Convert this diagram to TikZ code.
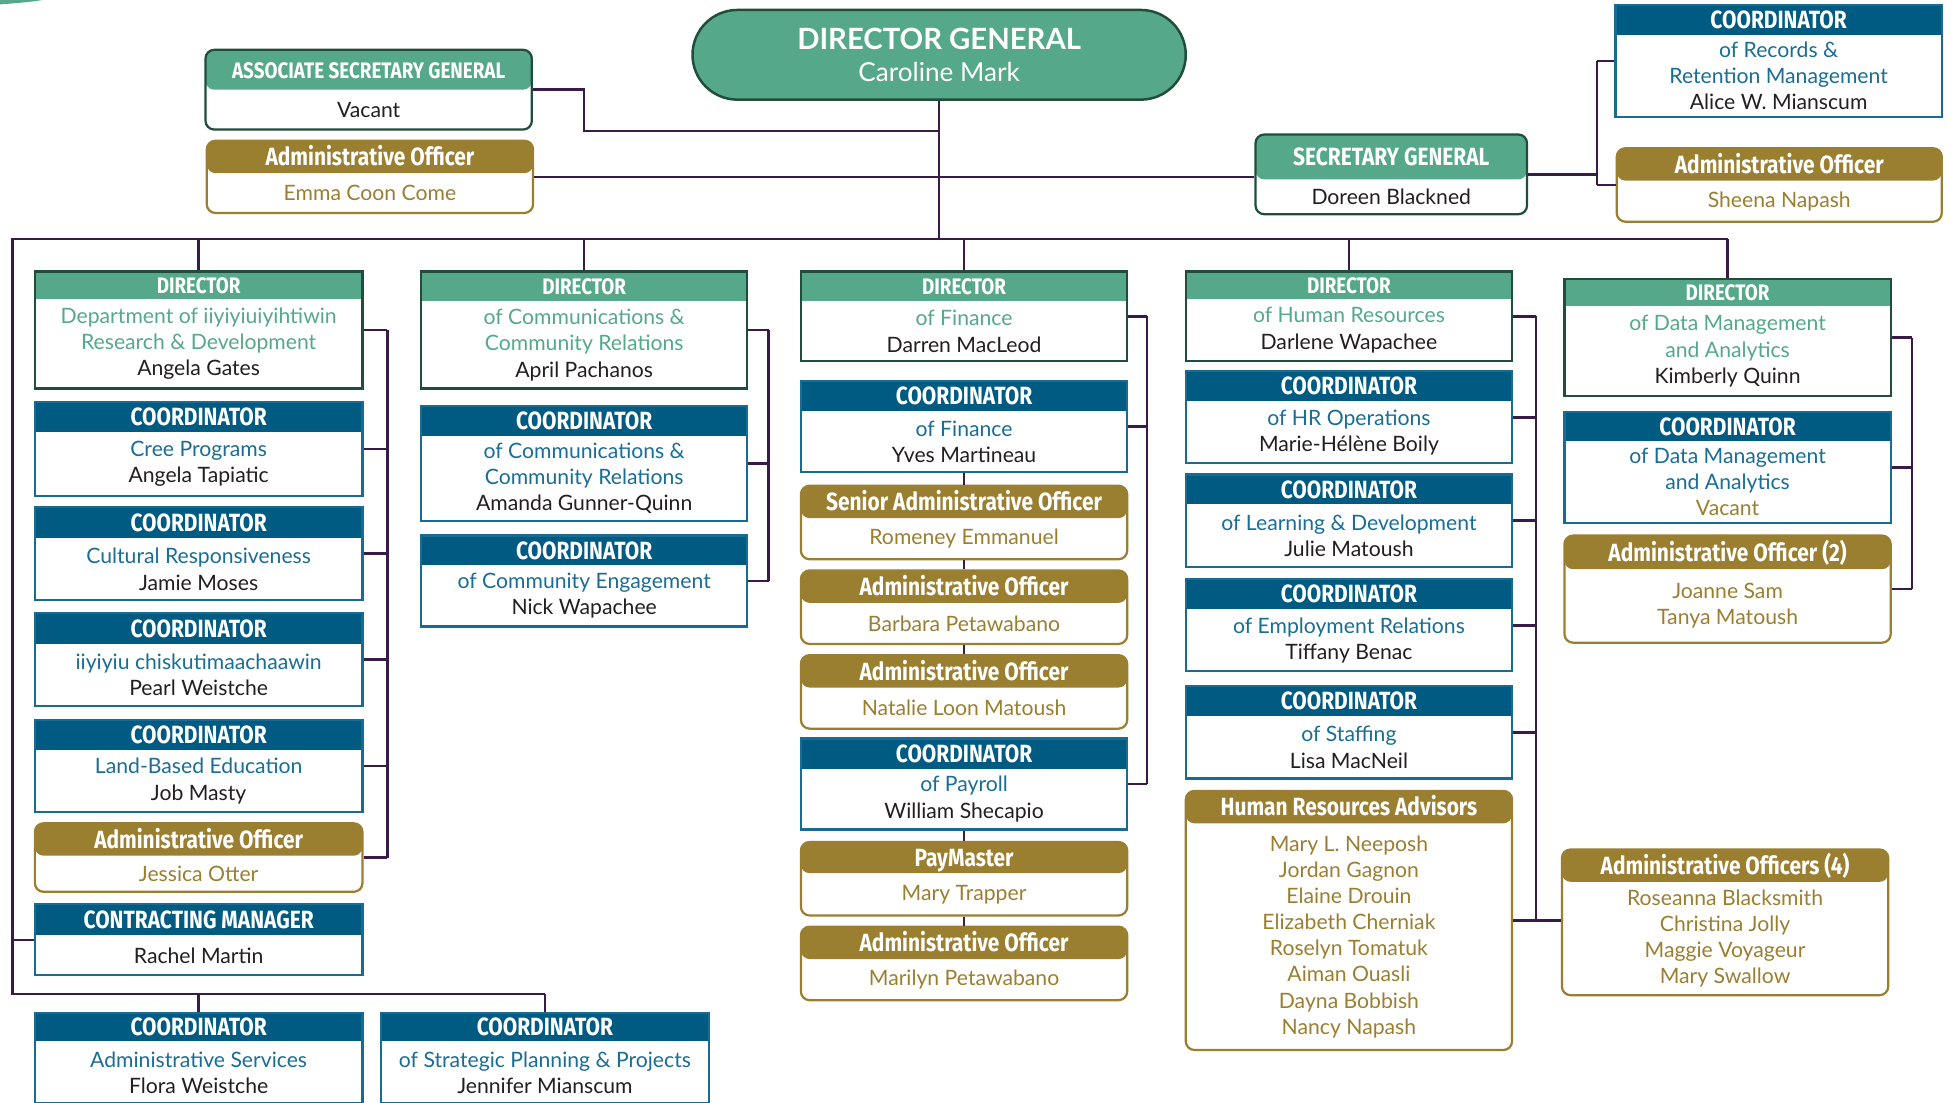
\documentclass[tikz,border=0pt]{standalone}
\usepackage{fontspec}
\setmainfont{Lato}
\newfontfamily\hdfont[FakeStretch=0.84]{Fira Sans}
\usetikzlibrary{calc,positioning}

\definecolor{hgreen}{RGB}{85,169,138}
\definecolor{dgreen}{RGB}{33,77,60}
\definecolor{cblue}{RGB}{0,91,130}
\definecolor{cbord}{RGB}{24,108,148}
\definecolor{gold}{RGB}{155,127,49}
\definecolor{linkc}{RGB}{58,27,71}
\definecolor{subblue}{RGB}{26,110,150}
\definecolor{namec}{RGB}{35,31,32}

\newcommand{\dsub}[1]{\textcolor{hgreen}{#1}}
\newcommand{\csub}[1]{\textcolor{subblue}{#1}}

% box: kind, name, left, top, right, bottom, header height, header, body
\newcommand{\obox}[9]{%
  \node[#1box=#7, minimum width={#5-#3}, minimum height={#6-#4}] (#2) at ({(#3+#5)/2},{(#4+#6)/2}) {};
  \node[#1hd] (#2-h) at ({(#3+#5)/2},{#4+#7/2}) {#8};
  \node[#1txt] (#2-t) at ({(#3+#5)/2},{(#4+#7+#6)/2}) {#9};
}

\begin{document}
\begin{tikzpicture}[
    x=1pt, y=-1pt,
    link/.style={draw=linkc, line width=2pt},
    hdfill/.style 2 args={path picture={\fill[#1] (path picture bounding box.north west)
      rectangle ([yshift=-#2]path picture bounding box.north east);}},
    basebox/.style={rectangle, fill=white, line width=1.8pt, inner sep=0pt},
    dirbox/.style={basebox, draw=dgreen, hdfill={hgreen}{#1}},
    sgbox/.style={dirbox=#1, rounded corners=7pt},
    crdbox/.style={basebox, draw=cbord, hdfill={cblue}{#1}},
    admbox/.style={basebox, draw=gold, rounded corners=7pt, hdfill={gold}{#1}},
    hdtext/.style={text=white, inner sep=0pt, text height=14pt, text depth=0pt,
      font=\hdfont\bfseries\fontsize{20}{22}\selectfont},
    dirhd/.style={hdtext, font=\hdfont\bfseries\fontsize{18}{20}\selectfont, text height=12.5pt},
    sghd/.style={hdtext}, crdhd/.style={hdtext}, admhd/.style={hdtext},
    bodytext/.style={align=center, inner sep=0pt, font=\fontsize{17}{21}\selectfont},
    dirtxt/.style={bodytext, text=namec}, sgtxt/.style={dirtxt}, crdtxt/.style={dirtxt},
    admtxt/.style={bodytext, text=gold},
    dgbox/.style={rectangle, rounded corners=36pt, fill=hgreen, draw=dgreen, line width=2pt,
      text=white, align=center, font=\fontsize{21}{26}\selectfont},
  ]
  \useasboundingbox (0,0) rectangle (1568,885);
  \clip (0,0) rectangle (1568,885);
  \fill[white] (0,0) rectangle (1568,885);
  \fill[hgreen] (0,0) -- (0,3.5) .. controls (15,2.5) and (28,1.2) .. (34,0) -- cycle;

  % Top level
  \node[dgbox, minimum width=396, minimum height=72] (dg) at (754,44)
    {{\fontsize{23.5}{26}\selectfont\bfseries DIRECTOR GENERAL}\\Caroline Mark};
  \obox{sg}{asg}{165}{40}{427}{104}{32}{\fontsize{18}{20}\selectfont ASSOCIATE SECRETARY GENERAL}{Vacant}
  \obox{adm}{aoE}{166}{113}{428}{171}{26}{Administrative Officer}{Emma Coon Come}
  \obox{sg}{sg}{1008}{108}{1226}{172}{36}{SECRETARY GENERAL}{Doreen Blackned}
  \obox{crd}{cRec}{1297}{4}{1559}{94}{24}{COORDINATOR}
    {\csub{of Records \&}\\\csub{Retention Management}\\Alice W. Mianscum}
  \obox{adm}{aoS}{1298}{119}{1559}{178}{26}{Administrative Officer}{Sheena Napash}

  % Column 1: research & development
  \obox{dir}{dRes}{28}{218}{291}{312}{22}{DIRECTOR}
    {\dsub{Department of iiyiyiuiyihtiwin}\\\dsub{Research \& Development}\\Angela Gates}
  \obox{crd}{cCree}{28}{323}{291}{398}{24}{COORDINATOR}{\csub{Cree Programs}\\Angela Tapiatic}
  \obox{crd}{cCult}{28}{407}{291}{482}{25}{COORDINATOR}{\csub{Cultural Responsiveness}\\Jamie Moses}
  \obox{crd}{cIiy}{28}{492}{291}{567}{25}{COORDINATOR}{\csub{iiyiyiu chiskutimaachaawin}\\Pearl Weistche}
  \obox{crd}{cLand}{28}{578}{291}{652}{24}{COORDINATOR}{\csub{Land-Based Education}\\Job Masty}
  \obox{adm}{aoJes}{28}{661}{291}{716}{26}{Administrative Officer}{Jessica Otter}
  \obox{crd}{cCon}{28}{726}{291}{783}{25}{CONTRACTING MANAGER}{Rachel Martin}
  \obox{crd}{cAdm}{28}{813}{291}{886}{23}{COORDINATOR}{\csub{Administrative Services}\\Flora Weistche}
  \obox{crd}{cStr}{306}{813}{569}{886}{23}{COORDINATOR}
    {\csub{of Strategic Planning \& Projects}\\Jennifer Mianscum}

  % Column 2: communications
  \obox{dir}{dCom}{338}{218}{600}{312}{24}{DIRECTOR}
    {\dsub{of Communications \&}\\\dsub{Community Relations}\\April Pachanos}
  \obox{crd}{cCom}{338}{326}{600}{418}{24}{COORDINATOR}
    {\csub{of Communications \&}\\\csub{Community Relations}\\Amanda Gunner-Quinn}
  \obox{crd}{cEng}{338}{430}{600}{503}{24}{COORDINATOR}{\csub{of Community Engagement}\\Nick Wapachee}

  % Column 3: finance
  \obox{dir}{dFin}{643}{218}{905}{290}{24}{DIRECTOR}{\dsub{of Finance}\\Darren MacLeod}
  \obox{crd}{cFin}{643}{306}{905}{379}{24}{COORDINATOR}{\csub{of Finance}\\Yves Martineau}
  \obox{adm}{aoSen}{643}{390}{905}{449}{26}{Senior Administrative Officer}{Romeney Emmanuel}
  \obox{adm}{aoBar}{643}{458}{905}{517}{26}{Administrative Officer}{Barbara Petawabano}
  \obox{adm}{aoNat}{643}{526}{905}{585}{26}{Administrative Officer}{Natalie Loon Matoush}
  \obox{crd}{cPay}{643}{593}{905}{666}{24}{COORDINATOR}{\csub{of Payroll}\\William Shecapio}
  \obox{adm}{pm}{643}{676}{905}{735}{25}{PayMaster}{Mary Trapper}
  \obox{adm}{aoMar}{643}{744}{905}{803}{26}{Administrative Officer}{Marilyn Petawabano}

  % Column 4: human resources
  \obox{dir}{dHR}{952}{218}{1214}{290}{22}{DIRECTOR}{\dsub{of Human Resources}\\Darlene Wapachee}
  \obox{crd}{cOps}{952}{298}{1214}{372}{24}{COORDINATOR}{\csub{of HR Operations}\\Marie-Hélène Boily}
  \obox{crd}{cLD}{952}{381}{1214}{455}{24}{COORDINATOR}{\csub{of Learning \& Development}\\Julie Matoush}
  \obox{crd}{cEmp}{952}{465}{1214}{539}{24}{COORDINATOR}{\csub{of Employment Relations}\\Tiffany Benac}
  \obox{crd}{cSta}{952}{551}{1214}{625}{24}{COORDINATOR}{\csub{of Staffing}\\Lisa MacNeil}
  \obox{adm}{hra}{952}{635}{1214}{843}{26}{Human Resources Advisors}
    {Mary L. Neeposh\\Jordan Gagnon\\Elaine Drouin\\Elizabeth Cherniak\\Roselyn Tomatuk\\Aiman Ouasli\\Dayna Bobbish\\Nancy Napash}

  % Column 5: data management
  \obox{dir}{dDat}{1256}{224}{1518}{318}{22}{DIRECTOR}
    {\dsub{of Data Management}\\\dsub{and Analytics}\\Kimberly Quinn}
  \obox{crd}{cDat}{1256}{331}{1518}{420}{23}{COORDINATOR}
    {\csub{of Data Management}\\\csub{and Analytics}\\\textcolor{gold}{Vacant}}
  \obox{adm}{ao2}{1256}{430}{1518}{516}{27}{Administrative Officer (2)}{Joanne Sam\\Tanya Matoush}
  \obox{adm}{ao4}{1254}{682}{1516}{799}{26}{Administrative Officers (4)}
    {Roseanna Blacksmith\\Christina Jolly\\Maggie Voyageur\\Mary Swallow}

  % Bus lines
  \coordinate (busL) at (10,192);
  \coordinate (busB) at (10,798);
  \coordinate (asgK) at (469,105);
  \coordinate (sgK) at (1282,0);
  \coordinate (bus1) at (311,0);
  \coordinate (bus2) at (617,0);
  \coordinate (bus3) at (921,0);
  \coordinate (bus4) at (1233,0);
  \coordinate (bus5) at (1535,0);

  \draw[link] (dg.south) -- (dg.south |- busL);
  \draw[link] (busL -| dDat.north) -- (busL) -- (busB) -- (busB -| cStr.north);
  \foreach \n in {dRes,dCom,dFin,dHR,dDat} \draw[link] (\n.north) -- (\n.north |- busL);
  \foreach \n in {cAdm,cStr} \draw[link] (\n.north) -- (\n.north |- busB);
  \draw[link] (cCon.west) -- (cCon.west -| busL);

  \draw[link] (asg.east) -| (asgK) -- (asgK -| dg.south);
  \draw[link] (aoE.east) -- (aoE.east -| sg.west);
  \draw[link] (sg.east) -- (sg.east -| sgK);
  \draw[link] (cRec.west -| sgK) -- (aoS.west -| sgK);
  \foreach \n in {cRec,aoS} \draw[link] (\n.west) -- (\n.west -| sgK);

  % Column buses
  \foreach \n in {dRes,cCree,cCult,cIiy,cLand,aoJes} \draw[link] (\n.east) -- (\n.east -| bus1);
  \draw[link] (dRes.east -| bus1) -- (aoJes.east -| bus1);
  \foreach \n in {dCom,cCom,cEng} \draw[link] (\n.east) -- (\n.east -| bus2);
  \draw[link] (dCom.east -| bus2) -- (cEng.east -| bus2);
  \foreach \n in {dFin,cFin,cPay} \draw[link] (\n.east) -- (\n.east -| bus3);
  \draw[link] (dFin.east -| bus3) -- (cPay.east -| bus3);
  \foreach \n in {dHR,cOps,cLD,cEmp,cSta,hra} \draw[link] (\n.east) -- (\n.east -| bus4);
  \draw[link] (dHR.east -| bus4) -- (hra.east -| bus4);
  \draw[link] (hra.east) -- (hra.east -| ao4.west);
  \foreach \n in {dDat,cDat,ao2} \draw[link] (\n.east) -- (\n.east -| bus5);
  \draw[link] (dDat.east -| bus5) -- (ao2.east -| bus5);

  % Finance stacks
  \draw[link] (cFin.south) -- (aoSen.north) (aoSen.south) -- (aoBar.north)
    (aoBar.south) -- (aoNat.north);
  \draw[link] (cPay.south) -- (pm.north) (pm.south) -- (aoMar.north);
\end{tikzpicture}
\end{document}
